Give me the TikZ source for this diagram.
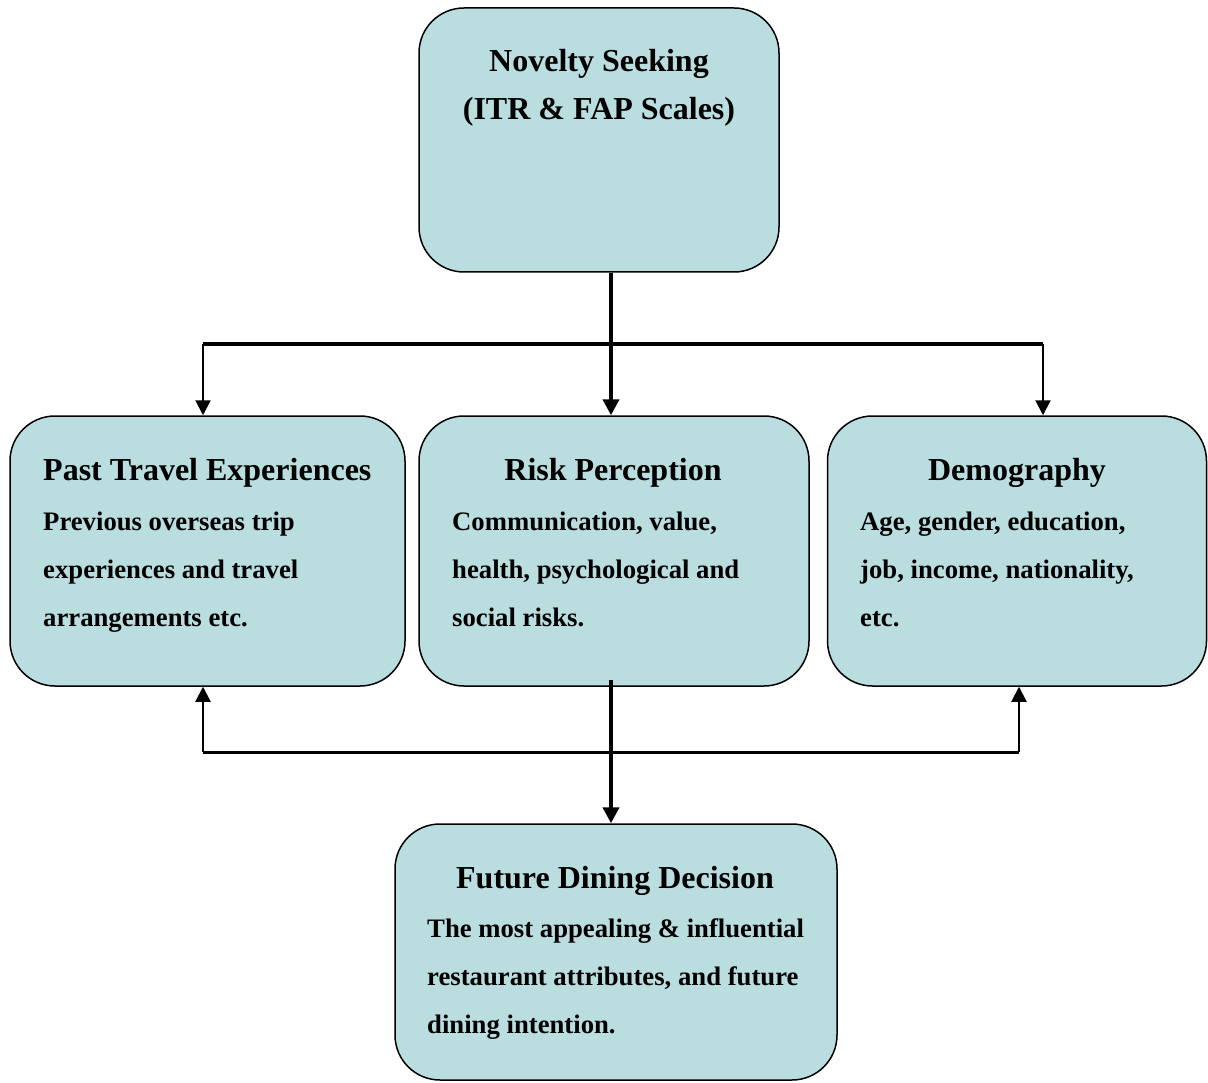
\documentclass[tikz,border=0pt]{standalone}
\usepackage{fontspec}
\setmainfont{Liberation Serif}
\usetikzlibrary{arrows.meta}
\definecolor{boxfill}{RGB}{186,221,224}
\begin{document}
\begin{tikzpicture}[x=1pt,y=-1pt,
  box/.style={draw=black, line width=1.5pt, fill=boxfill, rounded corners=45pt, inner sep=0pt},
  ttl/.style={inner sep=0pt, font=\bfseries\fontsize{32}{38}\selectfont},
  bdy/.style={inner sep=0pt, anchor=base west, font=\bfseries\fontsize{26.7}{32}\selectfont},
  thinarr/.style={line width=2pt, -{Triangle[length=15pt,width=15pt]}},
  thickarr/.style={line width=4pt, -{Triangle[length=14pt,width=8pt]}},
  thickln/.style={line width=4pt},
  midln/.style={line width=3pt}]
\useasboundingbox (0,0) rectangle (1208,1083);
% boxes
\node[box, minimum width=360pt, minimum height=264pt] (top) at (599,140) {};
\node[box, minimum width=395pt, minimum height=270pt] (left) at (207.5,551) {};
\node[box, minimum width=390pt, minimum height=270pt] (mid) at (614,551) {};
\node[box, minimum width=379pt, minimum height=270pt] (right) at (1017,551) {};
\node[box, minimum width=442pt, minimum height=256pt] (bot) at (616,952) {};
% texts
\node[ttl, anchor=base] (t0a) at (599,72) {Novelty Seeking};
\node[ttl, anchor=base] (t0b) at (599,120) {(ITR \& FAP Scales)};
\node[ttl, anchor=base west] (t1) at (43,480) {Past Travel Experiences};
\node[bdy] (b1a) at (43,530) {Previous overseas trip};
\node[bdy] (b1b) at (43,578) {experiences and travel};
\node[bdy] (b1c) at (43,626) {arrangements etc.};
\node[ttl, anchor=base] (t2) at (613,480) {Risk Perception};
\node[bdy] (b2a) at (452,530) {Communication, value,};
\node[bdy] (b2b) at (452,578) {health, psychological and};
\node[bdy] (b2c) at (452,626) {social risks.};
\node[ttl, anchor=base] (t3) at (1017,480) {Demography};
\node[bdy] (b3a) at (860,530) {Age, gender, education,};
\node[bdy] (b3b) at (860,578) {job, income, nationality,};
\node[bdy] (b3c) at (860,626) {etc.};
\node[ttl, anchor=base] (t4) at (615,888) {Future Dining Decision};
\node[bdy] (b4a) at (427,937) {The most appealing \& influential};
\node[bdy] (b4b) at (427,985) {restaurant attributes, and future};
\node[bdy] (b4c) at (427,1033) {dining intention.};
% junctions
\coordinate (j1) at (611,344);
\coordinate (hl) at (203,344);
\coordinate (hr) at (1043,344);
\coordinate (bl) at (203,752);
\coordinate (br) at (1019,752);
\coordinate (m1) at (611,680);
% connectors
\draw[thickln] (hl) -- (hr);
\draw[thickarr, -{Triangle[length=16pt,width=16pt]}] (top.south -| j1) -- (j1 |- mid.north);
\draw[thinarr] (hl) -- (hl |- left.north);
\draw[thinarr] (hr) -- (hr |- right.north);
\draw[midln] (bl) -- (br);
\draw[thinarr] (bl) -- (bl |- left.south);
\draw[thinarr] (br) -- (br |- right.south);
\draw[line width=4pt, -{Triangle[length=16pt,width=16pt]}] (m1) -- (m1 |- bot.north);
\end{tikzpicture}
\end{document}
